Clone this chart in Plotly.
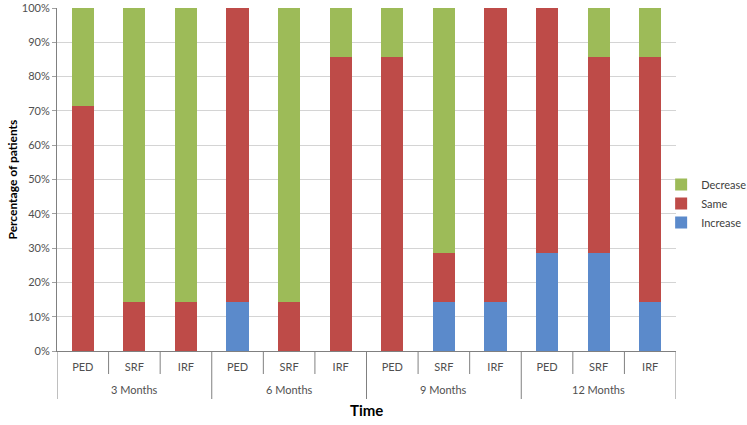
import plotly.graph_objects as go

group_names = ["3 Months", "6 Months", "9 Months", "12 Months"]
subs = ["PED", "SRF", "IRF"] * 4

increase = [0, 0, 0, 14.3, 0, 0, 0, 14.3, 14.3, 28.6, 28.6, 14.3]
same = [71.4, 14.3, 14.3, 85.7, 14.3, 85.7, 85.7, 14.3, 85.7, 71.4, 57.1, 71.4]
decrease = [28.6, 85.7, 85.7, 0, 85.7, 14.3, 14.3, 71.4, 0, 0, 14.3, 14.3]

xs = list(range(len(subs)))
PH = 343.0  # plot height in px, used for paper offsets below the axis
PW = 619.0

fig = go.Figure()
fig.add_trace(go.Bar(name="Increase", x=xs, y=increase, marker_color="#5B8ACB",
                     marker_line_width=0, width=0.43))
fig.add_trace(go.Bar(name="Same", x=xs, y=same, marker_color="#BE4B48",
                     marker_line_width=0, width=0.43))
fig.add_trace(go.Bar(name="Decrease", x=xs, y=decrease, marker_color="#9DBB58",
                     marker_line_width=0, width=0.43))

# category dividers below the axis
for i in range(len(subs) + 1):
    long = (i % 3 == 0)
    fig.add_shape(type="line", xref="x", yref="paper", x0=i - 0.5, x1=i - 0.5,
                  y0=0, y1=-(48 / PH) if long else -(23 / PH),
                  line=dict(color="#808080", width=1))

for g, name in enumerate(group_names):
    fig.add_annotation(x=g * 3 + 1, xref="x", y=-(38 / PH), yref="paper",
                       text=name, showarrow=False, yanchor="middle",
                       font=dict(size=11, color="#505050"))

fig.add_annotation(x=0.5, xref="paper", y=-(59 / PH), yref="paper", text="<b>Time</b>",
                   showarrow=False, yanchor="middle", font=dict(size=15, color="#000000"))
fig.add_annotation(x=-(45 / PW), xref="paper", y=0.5, yref="paper",
                   text="<b>Percentage of patients</b>", textangle=-90,
                   showarrow=False, xanchor="center", yanchor="middle",
                   font=dict(size=12, color="#000000"))

fig.update_layout(
    barmode="stack",
    width=747, height=425,
    margin=dict(l=57, r=71, t=8, b=74, autoexpand=False),
    plot_bgcolor="white",
    paper_bgcolor="white",
    font=dict(family="Lato", size=11, color="#505050"),
    legend=dict(traceorder="reversed", x=0.976, xanchor="left", y=0.43, yanchor="middle",
                font=dict(size=11, color="#404040"), itemwidth=30, tracegroupgap=0,
                bgcolor="rgba(0,0,0,0)"),
)
fig.update_yaxes(range=[0, 100], dtick=10, ticksuffix="%", showgrid=True,
                 gridcolor="#D4D4D4", showline=True, linecolor="#808080",
                 ticks="outside", ticklen=4, tickcolor="#A0A0A0", automargin=False)
fig.update_xaxes(range=[-0.5, 11.5], tickmode="array", tickvals=xs, ticktext=subs,
                 showline=True, linecolor="#808080", ticks="", ticklabelstandoff=6,
                 showgrid=False, automargin=False)

fig.write_html("out.html", config={"displayModeBar": False},
               post_script="document.body.style.margin='0';")
